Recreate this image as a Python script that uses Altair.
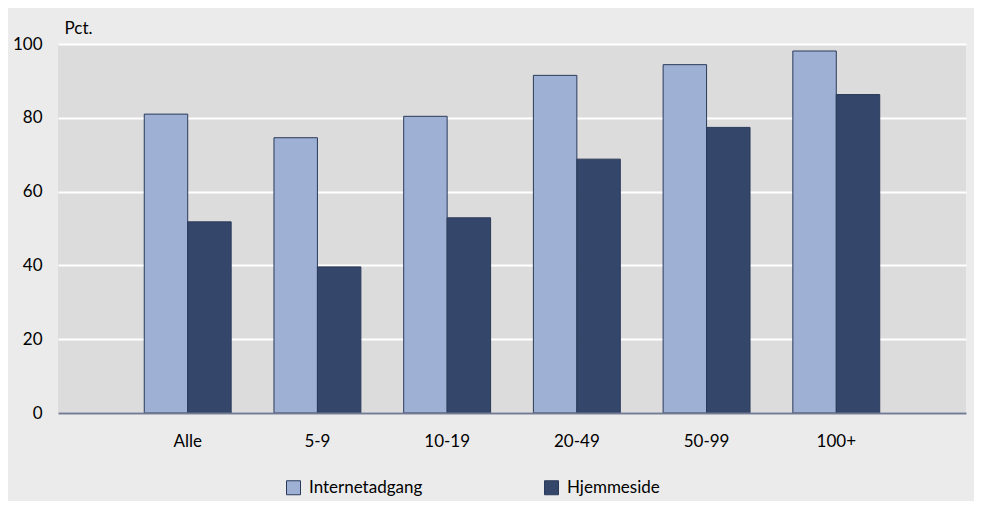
import altair as alt
import pandas as pd

categories = ["Alle", "5-9", "10-19", "20-49", "50-99", "100+"]
series = ["Internetadgang", "Hjemmeside"]
internet = [81.0, 74.6, 80.4, 91.5, 94.4, 98.1]
hjemmeside = [51.8, 39.6, 52.9, 68.8, 77.4, 86.3]
y_ticks = [0, 20, 40, 60, 80, 100]

rows = []
for c, a, b in zip(categories, internet, hjemmeside):
    rows.append({"kategori": c, "serie": series[0], "pct": a})
    rows.append({"kategori": c, "serie": series[1], "pct": b})
df = pd.DataFrame(rows)

FONT = "Lato"

chart = alt.Chart(df).mark_bar(stroke="#2b3a5a", strokeWidth=1).encode(
    x=alt.X("kategori:N", sort=categories,
            scale=alt.Scale(paddingInner=0.33, paddingOuter=0.665),
            axis=alt.Axis(title=None, labelAngle=0, ticks=False, grid=False,
                          domainColor="#737b93", domainWidth=2,
                          labelPadding=20, labelFontSize=17, labelColor="#000000",
                          zindex=1)),
    xOffset=alt.XOffset("serie:N", sort=series,
                        scale=alt.Scale(paddingInner=0, paddingOuter=0)),
    y=alt.Y("pct:Q", scale=alt.Scale(domain=[0, 100]),
            axis=alt.Axis(values=y_ticks, title="Pct.", titleAngle=0,
                          titleX=6, titleY=-11, titleAlign="left",
                          titleBaseline="alphabetic", titleFontWeight="normal",
                          titleFontSize=17, titleColor="#000000",
                          domain=False, ticks=False, gridColor="#ffffff",
                          gridWidth=2, gridOpacity=1, labelPadding=16,
                          labelFontSize=17, labelColor="#000000", zindex=0)),
    color=alt.Color("serie:N", sort=series,
                    scale=alt.Scale(domain=series, range=["#9eb0d4", "#34466a"]),
                    legend=alt.Legend(title=None, orient="none", legendX=227,
                                      legendY=435, direction="horizontal",
                                      symbolType="square", symbolSize=196,
                                      symbolStrokeColor="#2b3a5a",
                                      symbolStrokeWidth=1, symbolOpacity=1,
                                      labelFontSize=17, labelColor="#000000",
                                      labelOffset=7, columnPadding=119)),
).properties(
    width=908, height=369,
    autosize=alt.AutoSizeParams(type="none"),
    padding={"left": 50, "top": 36, "right": 8, "bottom": 88},
).configure(
    background="#ebebeb", font=FONT
).configure_view(
    fill="#dcdcdc", strokeWidth=0
)

chart.save("out.html", embed_options={"renderer": "svg", "actions": False})
